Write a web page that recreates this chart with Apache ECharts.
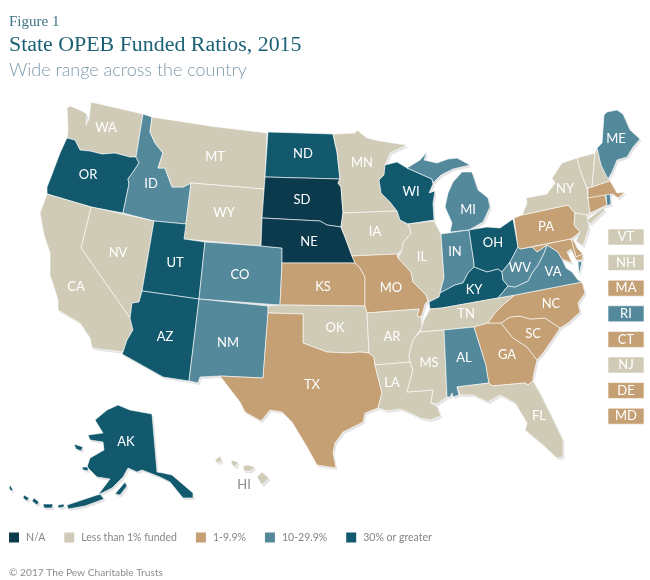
<!DOCTYPE html>
<html>
<head>
<meta charset="utf-8">
<style>html,body{margin:0;padding:0;background:#fff}#main{width:650px;height:580px}</style>
<script src="https://cdn.jsdelivr.net/npm/echarts@6/dist/echarts.min.js"></script>
</head>
<body>
<div id="main"></div>
<script>
// funding groups, index = value on the map
const groupLabels = ['N/A', 'Less than 1% funded', '1-9.9%', '10-29.9%', '30% or greater']
const groupColors = ['#0b3a4c', '#cfcbb6', '#c4a074', '#53899b', '#12596e']

const naStates = ['SD', 'NE']
const lowStates = ['WA', 'MT', 'WY', 'CA', 'NV', 'MN', 'IA', 'IL', 'OK', 'AR', 'LA', 'MS', 'TN', 'FL', 'NY', 'VT', 'NH', 'NJ', 'HI']
const midStates = ['TX', 'KS', 'MO', 'PA', 'NC', 'SC', 'GA', 'MA', 'CT', 'DE', 'MD']
const highStates = ['ID', 'CO', 'NM', 'IN', 'MI', 'AL', 'VA', 'WV', 'ME', 'RI']
const topStates = ['OR', 'UT', 'AZ', 'ND', 'WI', 'OH', 'KY', 'AK']
const stateGroups = [naStates, lowStates, midStates, highStates, topStates]

// small states repeated in the key at the right, no label on the map itself
const keyStates = ['VT', 'NH', 'MA', 'RI', 'CT', 'NJ', 'DE', 'MD']

// basemap drawn by hand in page pixels, "x,y x,y ..", one string per ring
const outlines = {
  WA: ['91,102 143,114 136,157 130,157 115,153 102,154 90,151 80,150 75,140 67,138 68,130 67,108 70,106 80,110 87,114 86,125 89,119 90,110'],
  OR: ['67,138 75,140 80,150 90,151 102,154 115,153 130,157 136,157 139,163 133,172 128,179 129,184 123,213 91,207 47,194 47,187 51,177 60,153 66,140'],
  ID: ['143,114 152,117 150,132 155,143 163,153 158,168 165,168 172,187 183,187 191,183 186,224 154,221 123,213 129,184 128,179 133,172 139,163 136,157'],
  MT: ['152,117 210,126 267,133 265,177 264,189 191,183 183,187 172,187 165,168 158,168 163,153 155,143 150,132'],
  WY: ['191,183 264,189 262,218 261,246 184,239'],
  NV: ['91,207 154,221 142,291 139,302 132,303 130,318 81,248'],
  CA: ['47,194 91,207 81,248 130,318 133,330 127,340 123,352 92,348 90,338 80,323 58,310 58,300 50,275 50,253 44,235 40,213'],
  UT: ['154,221 186,224 184,239 205,242 199,299 142,291'],
  CO: ['205,242 261,246 282,248 282,263 280,305 199,299'],
  AZ: ['142,291 199,299 189,381 163,377 122,354 123,352 127,340 133,330 130,318 132,303 139,302'],
  NM: ['199,299 268,306 268,313 263,378 220,376 200,377 198,383 189,381'],
  ND: ['268,132 333,134 337,152 340,179 265,177'],
  SD: ['265,177 340,179 338,183 341,187 343,213 341,227 327,225 320,221 262,218'],
  NE: ['262,218 320,221 327,225 341,227 345,237 352,256 355,263 282,263 282,248 261,246'],
  KS: ['282,263 355,263 360,268 365,277 365,306 280,305'],
  OK: ['268,306 280,305 365,306 367,313 369,353 360,352 347,353 327,352 303,343 303,314 268,313'],
  TX: ['268,313 303,314 303,343 327,352 347,353 360,352 369,353 374,357 375,365 382,393 378,408 365,413 363,422 343,432 335,443 333,453 336,468 317,465 307,447 292,422 282,412 270,410 261,421 245,412 240,402 220,376 263,378'],
  MN: ['333,134 355,133 357,130 367,138 380,141 393,143 407,145 390,153 385,165 384,175 379,180 381,193 390,202 397,211 343,213 341,187 338,183 340,179 337,152'],
  IA: ['343,213 397,211 400,220 409,225 411,233 403,243 402,250 397,254 352,256 345,237 341,227'],
  MO: ['352,256 397,254 398,258 411,272 413,282 426,295 428,301 425,304 423,311 421,317 417,316 419,309 367,313 365,306 365,277 360,268 355,263'],
  AR: ['367,313 419,309 417,316 421,317 422,327 413,340 409,355 410,362 375,365 374,357 369,353'],
  LA: ['375,365 410,362 413,370 407,392 433,390 431,403 437,406 441,416 430,420 420,418 408,412 400,409 387,411 378,408 382,393'],
  WI: ['397,162 407,168 432,179 433,184 429,193 435,191 433,203 434,220 408,224 400,220 397,211 390,202 381,193 379,180 384,175 385,165'],
  IL: ['408,224 434,221 441,234 444,278 442,285 440,293 439,297 429,302 426,295 413,282 411,272 398,258 402,250 403,243 411,233 409,225'],
  MI: ['407,168 420,160 427,152 424,160 437,163 448,159 457,158 470,165 453,169 441,175 433,183 432,179',
       '453,182 462,172 472,172 478,190 482,193 488,198 490,207 483,222 469,230 450,232 452,223 445,207 448,193'],
  IN: ['441,234 469,230 474,263 474,267 468,273 463,283 455,285 440,293 442,285 444,278'],
  OH: ['469,230 487,227 500,228 513,219 518,247 510,262 502,272 498,269 487,272 474,267 474,263'],
  KY: ['429,302 439,297 440,293 455,285 463,283 468,273 474,267 487,272 498,269 502,272 503,280 508,286 498,298 442,308 430,309'],
  TN: ['424,320 430,309 442,308 498,298 515,295 503,305 495,313 488,323 474,327 444,330 420,332'],
  MS: ['420,332 444,330 447,397 437,404 431,403 433,390 407,392 413,370 410,362 409,355 413,340'],
  AL: ['444,330 474,327 486,365 487,372 489,383 457,387 459,395 453,397 452,393 450,397 447,397'],
  GA: ['474,327 488,323 501,323 513,338 527,347 537,360 533,377 533,381 528,385 525,383 492,386 489,383 487,372 486,365'],
  FL: ['457,387 489,383 492,386 525,383 528,385 533,381 540,393 555,423 563,440 563,457 557,458 543,445 525,430 527,423 515,403 500,395 488,402 473,395 460,395'],
  SC: ['501,323 510,317 520,316 530,319 545,318 560,328 552,340 543,353 537,360 527,347 513,338'],
  NC: ['515,295 582,282 585,293 578,303 580,312 568,323 560,328 545,318 530,319 520,316 510,317 501,323 488,323 495,313 503,305'],
  VA: ['498,298 508,286 515,287 528,281 532,273 538,265 544,253 547,245 558,252 562,259 566,268 572,272 578,280 582,282 515,295',
       '578,262 582,261 579,275'],
  WV: ['520,249 532,247 537,252 547,245 544,253 538,265 532,273 528,281 515,287 508,286 503,280 502,272 510,262 518,247'],
  PA: ['514,218 522,215 568,205 575,213 574,225 580,232 571,239 520,249 518,247'],
  NY: ['522,215 527,203 526,198 547,194 555,183 552,178 562,163 577,158 580,170 583,178 587,188 588,198 590,213 587,215 575,213 568,205',
       '587,220 603,208 605,210 590,224'],
  NJ: ['575,213 587,215 589,228 583,246 576,241 580,232 574,225'],
  DE: ['571,239 574,241 577,248 583,254 576,257'],
  MD: ['532,247 571,239 576,257 583,254 582,260 576,260 571,249 567,252 572,263 562,259 558,252 547,245 537,252'],
  VT: ['577,158 595,153 594,165 592,187 587,188 583,178 580,170'],
  NH: ['595,153 597,148 601,165 607,176 610,181 592,187 594,165'],
  ME: ['597,148 602,143 604,115 607,112 617,110 623,114 630,130 640,139 633,147 627,157 617,160 612,172 608,179 601,165'],
  MA: ['588,188 592,187 610,181 613,186 617,193 625,192 618,198 613,194 607,195 588,198'],
  CT: ['588,198 605,195 607,205 590,213'],
  RI: ['606,195 610,194 611,204 607,206'],
  AK: ['118,405 130,410 152,414 157,472 163,473 172,475 193,493 193,498 183,498 170,482 160,477 142,470 137,472 128,468 123,477 112,488 98,495 110,479 97,477 87,467 90,458 104,450 103,442 90,440 88,435 103,433 95,420 107,410',
       '115,494 125,482 127,486 120,495', '74,444 83,447 81,451 76,449', '82,467 88,467 88,471 83,470',
       '100,494 104,499 85,506 68,509 67,505 82,500',
       '64,504 58,505 58,508 64,507', '53,504 43,504 44,508 52,508', '39,502 34,498 32,501 37,505', '29,498 24,495 23,498 27,501', '13,490 10,485 9,488 11,491'],
  HI: ['257,477 262,472 269,478 262,485', '231,460 238,462 236,467 232,465', '243,466 248,465 255,467 251,471 244,471', '215,460 220,456 222,461 217,463']
}

// where each state's label sits
const labelSpots = {
  WA: [106, 128], OR: [88, 175], ID: [151, 184], MT: [215, 157], WY: [224, 213], NV: [118, 253], CA: [76, 287],
  UT: [175, 263], CO: [240, 275], AZ: [165, 337], NM: [228, 343], ND: [303, 154], SD: [302, 200], NE: [309, 242],
  KS: [323, 287], OK: [335, 328], TX: [312, 385], MN: [362, 163], IA: [375, 232], MO: [391, 288], AR: [392, 337],
  LA: [392, 383], WI: [411, 192], IL: [422, 257], MI: [468, 210], IN: [455, 252], OH: [493, 243], KY: [474, 290],
  TN: [466, 314], MS: [429, 363], AL: [464, 358], GA: [507, 355], SC: [533, 334], NC: [551, 304], FL: [539, 416],
  VA: [553, 272], WV: [520, 268], PA: [546, 227], NY: [565, 189], ME: [616, 139], AK: [126, 442], HI: [244, 485]
}

const ring = s => s.split(' ').map(p => p.split(',').map(Number))

function buildMap() {
  let features = Object.keys(outlines).map(name => ({
    type: 'Feature',
    properties: { name, cp: labelSpots[name] },
    geometry: { type: 'MultiPolygon', coordinates: outlines[name].map(r => [ring(r)]) }
  }))
  keyStates.forEach((code, i) => {
    let y0 = 229 + i * 25.6
    let r = [[608, y0], [644, y0], [644, y0 + 16], [608, y0 + 16]]
    features.push({
      type: 'Feature',
      properties: { name: code + ' key', cp: [626, y0 + 8] },
      geometry: { type: 'Polygon', coordinates: [r] }
    })
  })
  return { type: 'FeatureCollection', features }
}

const groupOf = code => stateGroups.findIndex(g => g.includes(code))

const stateData = []
stateGroups.forEach((g, value) => g.forEach(name => {
  let item = { name, value }
  if (keyStates.includes(name)) item.label = { show: false }
  if (name == 'HI') item.label = { color: '#8c8c8c' }
  stateData.push(item)
}))
keyStates.forEach(code => stateData.push({ name: code + ' key', value: groupOf(code) }))

const usa = buildMap()
echarts.registerMap('usa', usa)

// bounding box of the hand drawn map, so that one map unit is one page pixel
let xs = [], ys = []
usa.features.forEach(f => {
  let polys = f.geometry.type == 'Polygon' ? [f.geometry.coordinates] : f.geometry.coordinates
  polys.forEach(p => p[0].forEach(c => { xs.push(c[0]); ys.push(c[1]) }))
})
const box = {
  left: Math.min(...xs), top: Math.min(...ys),
  width: Math.max(...xs) - Math.min(...xs), height: Math.max(...ys) - Math.min(...ys)
}
const flat = { project: p => p, unproject: p => p }

var chart = echarts.init(document.getElementById('main'), null, { renderer: 'canvas' })

chart.setOption({
  animation: false,
  backgroundColor: '#fff',
  title: [
    { text: 'Figure 1', left: 9, top: 15, padding: 0, textStyle: { fontFamily: 'Liberation Serif', fontSize: 15, fontWeight: 'normal', color: '#3f7486' } },
    { text: 'State OPEB Funded Ratios, 2015', left: 9, top: 34, padding: 0, textStyle: { fontFamily: 'Liberation Serif', fontSize: 21.9, fontWeight: 'normal', color: '#1b6175' } },
    { text: 'Wide range across the country', left: 9, top: 61, padding: 0, textStyle: { fontFamily: 'Lato', fontSize: 18, fontWeight: 300, color: '#7d9aab' } },
    { text: '\u00a9 2017 The Pew Charitable Trusts', left: 9, top: 568, padding: 0, textStyle: { fontFamily: 'Lato', fontSize: 10.2, fontWeight: 'normal', color: '#8c8c8c' } }
  ],
  // soft coast shadow: the same map, a bit lower right, under the coloured one
  geo: {
    map: 'usa',
    projection: flat,
    left: box.left + 1.5, top: box.top + 2, width: box.width, height: box.height,
    silent: true,
    itemStyle: { areaColor: '#e3e3e3', borderWidth: 0 },
    regions: keyStates.map(code => ({ name: code + ' key', itemStyle: { areaColor: 'transparent' } })),
    label: { show: false },
    emphasis: { disabled: true }
  },
  visualMap: {
    type: 'piecewise',
    orient: 'horizontal',
    left: 9,
    top: 532,
    padding: 0,
    itemWidth: 10,
    itemHeight: 10,
    itemGap: 19,
    textGap: 7,
    itemSymbol: 'rect',
    hoverLink: false,
    selectedMode: false,
    textStyle: { fontFamily: 'Lato', fontSize: 10.5, color: '#858585' },
    pieces: groupLabels.map((label, i) => ({ value: i, label, color: groupColors[i] }))
  },
  series: [{
    type: 'map',
    map: 'usa',
    projection: flat,
    left: box.left, top: box.top, width: box.width, height: box.height,
    silent: true,
    selectedMode: false,
    itemStyle: { borderColor: '#fff', borderWidth: 0.6 },
    emphasis: { disabled: true },
    label: {
      show: true,
      color: '#fff',
      fontFamily: 'Lato',
      fontSize: 13,
      formatter: p => p.name.slice(0, 2)
    },
    data: stateData
  }]
})
</script>
</body>
</html>
